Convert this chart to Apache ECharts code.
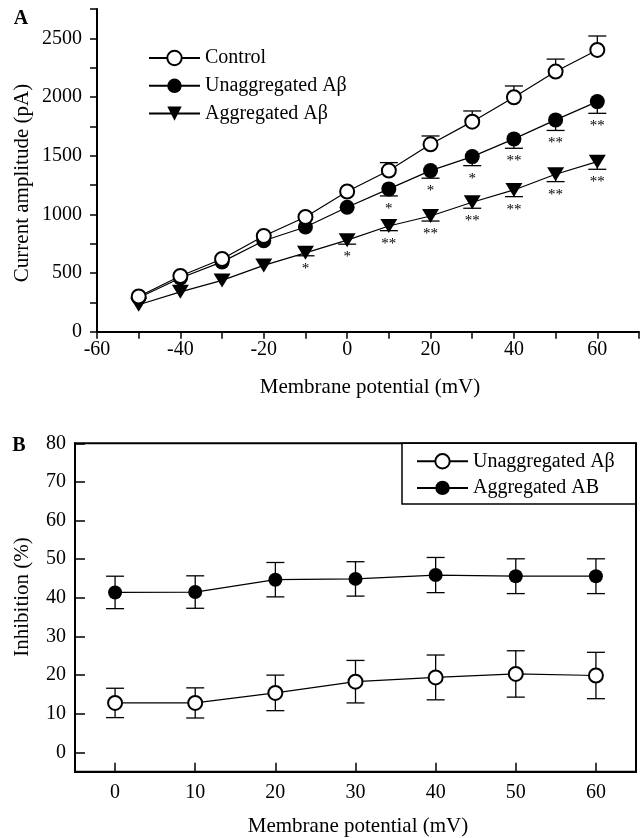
<!DOCTYPE html>
<html><head><meta charset="utf-8">
<script src="https://cdn.jsdelivr.net/npm/echarts@6/dist/echarts.min.js"></script>
<style>html,body{margin:0;padding:0;background:#fff}#c{width:640px;height:838px}</style>
</head><body><div id="c"></div>
<script>
// ---------- Panel A data ----------
const potentialA = [-50, -40, -30, -20, -10, 0, 10, 20, 30, 40, 50, 60];
const controlA = [300, 475, 620, 816, 978, 1195, 1373, 1597, 1790, 1998, 2217, 2401];
const controlErrA = [0, 0, 0, 0, 0, 0, 68, 71, 91, 96, 106, 119];
const unaggA = [290, 458, 595, 775, 892, 1061, 1217, 1373, 1492, 1643, 1805, 1961];
const unaggErrA = [0, 0, 0, 0, 0, 0, 60, 65, 77, 80, 90, 100];
const aggA = [230, 340, 437, 565, 672, 780, 901, 986, 1103, 1208, 1342, 1449];
const aggErrA = [0, 0, 0, 0, 25, 34, 40, 43, 51, 57, 63, 65];
const starsUnaggA = ['', '', '', '', '', '', '*', '*', '*', '**', '**', '**'];
const starsAggA = ['', '', '', '', '*', '*', '**', '**', '**', '**', '**', '**'];
const namesA = ['Control', 'Unaggregated A\u03b2', 'Aggregated A\u03b2'];

// ---------- Panel B data ----------
const potentialB = [0, 10, 20, 30, 40, 50, 60];
const unaggB = [12.8, 12.8, 15.4, 18.3, 19.4, 20.3, 19.9];
const unaggErrB = [3.8, 3.9, 4.6, 5.5, 5.8, 6.0, 6.0];
const aggB = [41.4, 41.5, 44.7, 44.9, 45.9, 45.6, 45.6];
const aggErrB = [4.2, 4.2, 4.45, 4.45, 4.55, 4.5, 4.5];
const namesB = ['Unaggregated A\u03b2', 'Aggregated AB'];
const ticksB_x = [0, 10, 20, 30, 40, 50, 60];
const ticksB_y = [0, 10, 20, 30, 40, 50, 60, 70, 80];

const FONT = 'Liberation Serif';

function errRender(dir) {
  return function (params, api) {
    const x = api.value(0), y = api.value(1), e = api.value(2);
    if (!e) return { type: 'group', children: [] };
    const s = { stroke: '#000', lineWidth: 1.3 };
    const children = [];
    const dirs = dir === 0 ? [1, -1] : [dir];
    dirs.forEach(d => {
      const p0 = api.coord([x, y]), p1 = api.coord([x, y + d * e]);
      children.push({ type: 'line', shape: { x1: p0[0], y1: p0[1], x2: p1[0], y2: p1[1] }, style: s });
      children.push({ type: 'line', shape: { x1: p1[0] - 9, y1: p1[1], x2: p1[0] + 9, y2: p1[1] }, style: s });
    });
    return { type: 'group', children };
  };
}
function starRender(stars) {
  return function (params, api) {
    const txt = stars[params.dataIndex];
    if (!txt) return { type: 'group', children: [] };
    const x = api.value(0), y = api.value(1), e = api.value(2);
    const p = api.coord([x, y - e]);
    return { type: 'text', x: p[0], y: p[1] + 13, style: { text: txt, fill: '#000', font: '15px "' + FONT + '"', align: 'center', verticalAlign: 'middle' } };
  };
}
function tri(xs, ys, es) { return xs.map((x, i) => [x, ys[i], es[i]]); }

const chart = echarts.init(document.getElementById('c'), null, { renderer: 'canvas' });
const lineCommon = { type: 'line', lineStyle: { color: '#000', width: 1.2 }, z: 3 };
const axisTxt = { color: '#000', fontFamily: FONT, fontSize: 20 };

chart.setOption({
  animation: false,
  backgroundColor: '#fff',
  grid: [
    { left: 97, right: 1, top: 9, height: 322.7, containLabel: false, outerBoundsMode: 'none' },
    { left: 75, right: 4, top: 443.3, height: 328.4, containLabel: false, outerBoundsMode: 'none', show: true, borderColor: '#000', borderWidth: 2 }
  ],
  xAxis: [
    { gridIndex: 0, type: 'value', min: -60, max: 70, interval: 10,
      axisLine: { onZero: false, lineStyle: { color: '#000', width: 2 } },
      axisTick: { inside: false, length: 7, lineStyle: { color: '#000', width: 1.5 } },
      axisLabel: Object.assign({ margin: 8, formatter: v => (v % 20 === 0 && v < 70) ? String(v) : '' }, axisTxt),
      splitLine: { show: false } },
    { gridIndex: 1, type: 'value', min: -5, max: 65,
      axisLine: { onZero: false, lineStyle: { color: '#000', width: 2 } },
      axisTick: { inside: true, length: 9, customValues: ticksB_x, lineStyle: { color: '#000', width: 1.5 } },
      axisLabel: Object.assign({ margin: 11, customValues: ticksB_x, formatter: v => String(v) }, axisTxt),
      splitLine: { show: false } }
  ],
  yAxis: [
    { gridIndex: 0, type: 'value', min: 0, max: 2750, interval: 250,
      axisLine: { show: true, onZero: false, lineStyle: { color: '#000', width: 2 } },
      axisTick: { show: true, inside: false, length: 7, lineStyle: { color: '#000', width: 1.5 } },
      axisLabel: Object.assign({ margin: 15, formatter: v => (v % 500 === 0) ? String(v) : '' }, axisTxt),
      splitLine: { show: false } },
    { gridIndex: 1, type: 'value', min: -5, max: 80,
      axisLine: { show: true, onZero: false, lineStyle: { color: '#000', width: 2 } },
      axisTick: { show: true, inside: true, length: 10, customValues: ticksB_y, lineStyle: { color: '#000', width: 1.5 } },
      axisLabel: Object.assign({ margin: 9, customValues: ticksB_y, formatter: v => String(v) }, axisTxt),
      splitLine: { show: false } }
  ],
  legend: [
    { data: namesA, orient: 'vertical', left: 148, top: 48, padding: 0, itemGap: 7.8,
      itemWidth: 51, itemHeight: 18, selectedMode: false,
      textStyle: { color: '#000', fontFamily: FONT, fontSize: 20 } },
    { data: namesB.map(n => 'B: ' + n), orient: 'vertical', left: 402, top: 443.3, padding: [8, 21, 6, 14], itemGap: 6.6,
      itemWidth: 51, itemHeight: 18, selectedMode: false, borderColor: '#000', borderWidth: 1.5, backgroundColor: '#fff',
      formatter: n => n.replace('B: ', ''),
      textStyle: { color: '#000', fontFamily: FONT, fontSize: 20 } }
  ],
  graphic: [
    { type: 'text', x: 21, y: 19, style: { text: 'A', font: 'bold 20px "' + FONT + '"', fill: '#000', align: 'center', verticalAlign: 'middle' } },
    { type: 'text', x: 19, y: 446, style: { text: 'B', font: 'bold 20px "' + FONT + '"', fill: '#000', align: 'center', verticalAlign: 'middle' } },
    { type: 'text', x: 22, y: 183, rotation: Math.PI / 2, style: { text: 'Current amplitude (pA)', font: '21px "' + FONT + '"', fill: '#000', align: 'center', verticalAlign: 'middle' } },
    { type: 'text', x: 370, y: 387, style: { text: 'Membrane potential (mV)', font: '21px "' + FONT + '"', fill: '#000', align: 'center', verticalAlign: 'middle' } },
    { type: 'text', x: 22, y: 597, rotation: Math.PI / 2, style: { text: 'Inhibition (%)', font: '21px "' + FONT + '"', fill: '#000', align: 'center', verticalAlign: 'middle' } },
    { type: 'text', x: 358, y: 826, style: { text: 'Membrane potential (mV)', font: '21px "' + FONT + '"', fill: '#000', align: 'center', verticalAlign: 'middle' } }
  ],
  series: [
    // Panel A error bars and significance stars
    { name: 'errCtl', type: 'custom', xAxisIndex: 0, yAxisIndex: 0, z: 1, encode: { x: 0, y: 1 }, renderItem: errRender(1), data: tri(potentialA, controlA, controlErrA) },
    { name: 'errUn', type: 'custom', xAxisIndex: 0, yAxisIndex: 0, z: 1, encode: { x: 0, y: 1 }, renderItem: errRender(-1), data: tri(potentialA, unaggA, unaggErrA) },
    { name: 'errAg', type: 'custom', xAxisIndex: 0, yAxisIndex: 0, z: 1, encode: { x: 0, y: 1 }, renderItem: errRender(-1), data: tri(potentialA, aggA, aggErrA) },
    { name: 'starUn', type: 'custom', xAxisIndex: 0, yAxisIndex: 0, z: 4, encode: { x: 0, y: 1 }, renderItem: starRender(starsUnaggA), data: tri(potentialA, unaggA, unaggErrA) },
    { name: 'starAg', type: 'custom', xAxisIndex: 0, yAxisIndex: 0, z: 4, encode: { x: 0, y: 1 }, renderItem: starRender(starsAggA), data: tri(potentialA, aggA, aggErrA) },
    // Panel A lines
    Object.assign({}, lineCommon, { name: namesA[2], xAxisIndex: 0, yAxisIndex: 0, symbol: 'triangle', symbolRotate: 180, symbolSize: [17, 14],
      itemStyle: { color: '#000', borderColor: '#000', borderWidth: 0 }, data: potentialA.map((x, i) => [x, aggA[i]]) }),
    Object.assign({}, lineCommon, { name: namesA[1], xAxisIndex: 0, yAxisIndex: 0, symbol: 'circle', symbolSize: 15,
      itemStyle: { color: '#000', borderColor: '#000', borderWidth: 0 }, data: potentialA.map((x, i) => [x, unaggA[i]]) }),
    Object.assign({}, lineCommon, { name: namesA[0], xAxisIndex: 0, yAxisIndex: 0, symbol: 'circle', symbolSize: 14,
      itemStyle: { color: '#fff', borderColor: '#000', borderWidth: 2 }, data: potentialA.map((x, i) => [x, controlA[i]]) }),
    // Panel B
    { name: 'errBU', type: 'custom', xAxisIndex: 1, yAxisIndex: 1, z: 1, encode: { x: 0, y: 1 }, renderItem: errRender(0), data: tri(potentialB, unaggB, unaggErrB) },
    { name: 'errBA', type: 'custom', xAxisIndex: 1, yAxisIndex: 1, z: 1, encode: { x: 0, y: 1 }, renderItem: errRender(0), data: tri(potentialB, aggB, aggErrB) },
    Object.assign({}, lineCommon, { name: 'B: ' + namesB[0], xAxisIndex: 1, yAxisIndex: 1, symbol: 'circle', symbolSize: 14,
      itemStyle: { color: '#fff', borderColor: '#000', borderWidth: 2 }, data: potentialB.map((x, i) => [x, unaggB[i]]) }),
    Object.assign({}, lineCommon, { name: 'B: ' + namesB[1], xAxisIndex: 1, yAxisIndex: 1, symbol: 'circle', symbolSize: 14,
      itemStyle: { color: '#000', borderColor: '#000', borderWidth: 0 }, data: potentialB.map((x, i) => [x, aggB[i]]) })
  ]
});
</script>
</body></html>
